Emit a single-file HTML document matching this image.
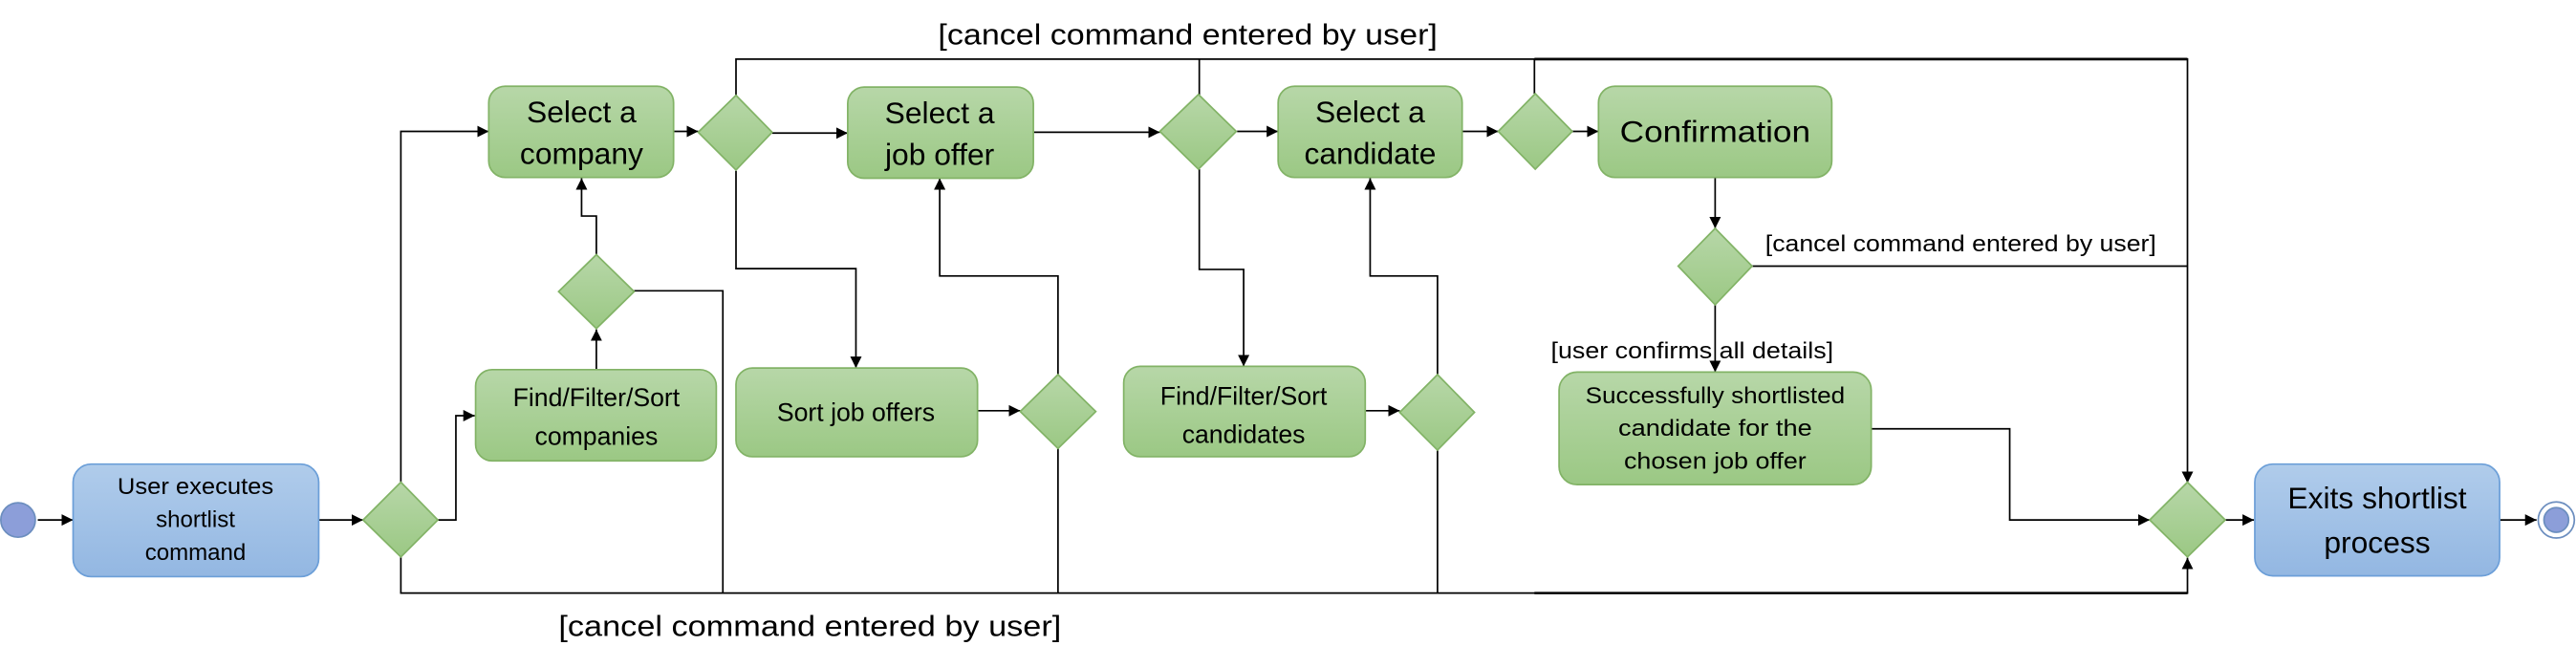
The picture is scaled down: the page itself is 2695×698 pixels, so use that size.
<!DOCTYPE html>
<html><head><meta charset="utf-8"><style>
html,body{margin:0;padding:0;background:#fff;}
svg{display:block;}
text{font-family:"Liberation Sans",sans-serif;fill:#000;}
</style></head><body>
<svg width="2695" height="698" viewBox="0 0 1568 406" preserveAspectRatio="none" xmlns="http://www.w3.org/2000/svg">
<defs>
<linearGradient id="g" x1="0" y1="0" x2="0" y2="1"><stop offset="0" stop-color="#b7d7a8"/><stop offset="1" stop-color="#9bc884"/></linearGradient>
<linearGradient id="b" x1="0" y1="0" x2="0" y2="1"><stop offset="0" stop-color="#b0cceb"/><stop offset="1" stop-color="#93b7e2"/></linearGradient>
<marker id="a" viewBox="0 0 10 10" refX="10" refY="5" markerWidth="7" markerHeight="7" orient="auto" markerUnits="userSpaceOnUse"><path d="M0,0L10,5L0,10z" fill="#000"/></marker>
</defs>
<g fill="none" stroke="#000" stroke-width="1">
<path d="M448,58V36H1331.5V294" marker-end="url(#a)"/>
<path d="M730,58V36"/>
<path d="M934,57V36"/>
<path d="M934,36H1331.5" stroke-width="1.6"/>
<path d="M244,339V361H1331.5V339.5" marker-end="url(#a)"/>
<path d="M934,361H1331.5" stroke-width="1.4"/>
<path d="M23,316.5H44.5" marker-end="url(#a)"/>
<path d="M194,316.5H221" marker-end="url(#a)"/>
<path d="M244,293.5V80H297.5" marker-end="url(#a)"/>
<path d="M266.5,316.5H277.5V253H289" marker-end="url(#a)"/>
<path d="M363,225V200.5" marker-end="url(#a)"/>
<path d="M363,155V131.5H354V108.5" marker-end="url(#a)"/>
<path d="M386,177H440V361"/>
<path d="M410,80H425" marker-end="url(#a)"/>
<path d="M470,81H516" marker-end="url(#a)"/>
<path d="M448,104V163.5H521V224" marker-end="url(#a)"/>
<path d="M595,250H621" marker-end="url(#a)"/>
<path d="M644,228V168H572V108.5" marker-end="url(#a)"/>
<path d="M644,273V361"/>
<path d="M629,80.5H706" marker-end="url(#a)"/>
<path d="M730,103V164H757V223" marker-end="url(#a)"/>
<path d="M831,250H852" marker-end="url(#a)"/>
<path d="M875,228V168H834V108.5" marker-end="url(#a)"/>
<path d="M875,274V361"/>
<path d="M753,80H778" marker-end="url(#a)"/>
<path d="M890,80H912" marker-end="url(#a)"/>
<path d="M957,80H973" marker-end="url(#a)"/>
<path d="M1044,108V139" marker-end="url(#a)"/>
<path d="M1066.5,162H1331.5"/>
<path d="M1044,185.5V226.5" marker-end="url(#a)"/>
<path d="M1139,261H1223.3V316.5H1308.5" marker-end="url(#a)"/>
<path d="M1354.5,316.5H1372" marker-end="url(#a)"/>
<path d="M1521.5,316.5H1544" marker-end="url(#a)"/>
</g>
<circle cx="11" cy="316.5" r="10.5" fill="#8c9ed9" stroke="#6c8ebf"/>
<circle cx="1556" cy="316.5" r="11" fill="#fff" stroke="#6c8ebf"/>
<circle cx="1556" cy="316.5" r="7.5" fill="#8c9ed9" stroke="#6c8ebf"/>
<g stroke="#82b366" stroke-width="1" fill="url(#g)">
<rect x="297.5" y="52.5" width="112.5" height="55.5" rx="10"/>
<rect x="516" y="53" width="113" height="55.5" rx="10"/>
<rect x="778" y="52.5" width="112" height="55.5" rx="10"/>
<rect x="973" y="52.5" width="142" height="55.5" rx="10"/>
<rect x="289.5" y="225" width="146.5" height="55.5" rx="10"/>
<rect x="448" y="224" width="147" height="54" rx="10"/>
<rect x="684" y="223" width="147" height="55" rx="10"/>
<rect x="949" y="226.5" width="190" height="68.5" rx="11"/>
<path d="M425,80.5L448,58L470,80.5L448,103.5Z"/>
<path d="M706,80L729.5,57.5L752.5,80L729.5,103Z"/>
<path d="M912,80L934.5,57L957,80L934.5,103Z"/>
<path d="M1021.5,162L1044,139L1066.5,162L1044,185.5Z"/>
<path d="M340,177.5L363,155L386,177.5L363,200Z"/>
<path d="M621,250.5L644,228L667,250.5L644,273Z"/>
<path d="M852,251L875,228L897.5,251L875,274Z"/>
<path d="M221,316.5L244,293.5L266.5,316.5L244,339Z"/>
<path d="M1308.5,316.5L1331.5,293.5L1354.5,316.5L1331.5,339Z"/>
</g>
<g stroke="#6c9fd8" stroke-width="1" fill="url(#b)">
<rect x="44.5" y="282.5" width="149.5" height="68.5" rx="11"/>
<rect x="1372.5" y="282.5" width="149" height="68" rx="11"/>
</g>
<g text-anchor="middle" dominant-baseline="central">
<g font-size="18.5">
<text x="354" y="68">Select a</text><text x="354" y="93.5">company</text>
<text x="572" y="68.5">Select a</text><text x="572" y="94">job offer</text>
<text x="834" y="68">Select a</text><text x="834" y="93.5">candidate</text>
<text x="1044" y="80" textLength="116" lengthAdjust="spacingAndGlyphs">Confirmation</text>
<text x="1447" y="303">Exits shortlist</text><text x="1447" y="330">process</text>
</g>
<g font-size="15.5">
<text x="363" y="242">Find/Filter/Sort</text><text x="363" y="265.5">companies</text>
<text x="521" y="251">Sort job offers</text>
<text x="757" y="241">Find/Filter/Sort</text><text x="757" y="264.5">candidates</text>
</g>
<g font-size="14">
<text x="119" y="296.5" textLength="95" lengthAdjust="spacingAndGlyphs">User executes</text><text x="119" y="316.5">shortlist</text><text x="119" y="336.5">command</text>
<text x="1044" y="241" textLength="158" lengthAdjust="spacingAndGlyphs">Successfully shortlisted</text>
<text x="1044" y="261" textLength="118" lengthAdjust="spacingAndGlyphs">candidate for the</text>
<text x="1044" y="281" textLength="111" lengthAdjust="spacingAndGlyphs">chosen job offer</text>
</g>
</g>
<text x="571" y="27" font-size="18" textLength="304" lengthAdjust="spacingAndGlyphs">[cancel command entered by user]</text>
<text x="340" y="387" font-size="18" textLength="306" lengthAdjust="spacingAndGlyphs">[cancel command entered by user]</text>
<text x="1074.5" y="153" font-size="14" textLength="238" lengthAdjust="spacingAndGlyphs">[cancel command entered by user]</text>
<text x="944" y="218" font-size="14" textLength="172" lengthAdjust="spacingAndGlyphs">[user confirms all details]</text>
</svg>
</body></html>
